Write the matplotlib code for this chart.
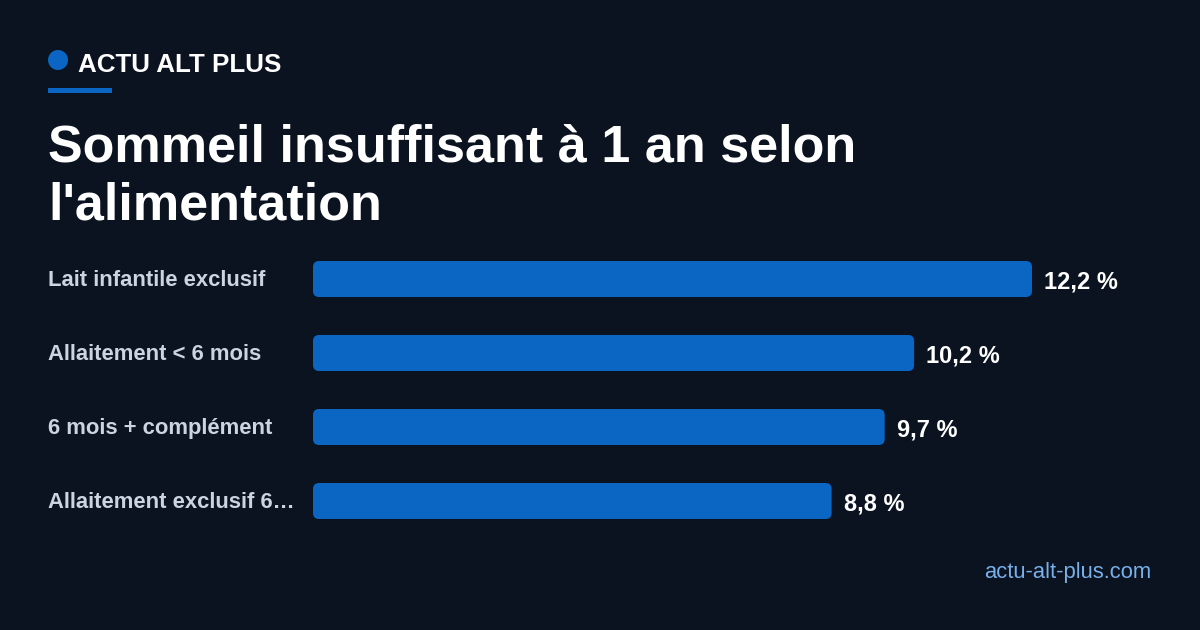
import matplotlib
matplotlib.use("Agg")
import matplotlib.pyplot as plt
from matplotlib.patches import FancyBboxPatch, Ellipse, Rectangle
from matplotlib.transforms import blended_transform_factory, offset_copy

categories = ["Lait infantile exclusif", "Allaitement < 6 mois",
              "6 mois + complément", "Allaitement exclusif 6…"]
values = [12.2, 10.2, 9.7, 8.8]
value_labels = ["12,2 %", "10,2 %", "9,7 %", "8,8 %"]
brand = "ACTU ALT PLUS"
title_lines = ["Sommeil insuffisant à 1 an selon", "l'alimentation"]
footer = "actu-alt-plus.com"

BG = "#0b1220"
BAR = "#0a66c2"
LABEL = "#cbd5e1"
FOOT = "#78b0ea"
FONT = ["Liberation Sans", "DejaVu Sans"]
plt.rcParams["font.family"] = FONT

W, H = 1200, 630
DPI = 100
fig = plt.figure(figsize=(W / DPI, H / DPI), dpi=DPI, facecolor=BG)

def fx(px):
    return px / W

def fy(py):
    return 1 - py / H

def pt(px):
    return px * 72 / DPI

# header
fig.patches.append(Ellipse((fx(58), fy(60)), 20 / W, 20 / H, transform=fig.transFigure,
                           facecolor=BAR, edgecolor="none"))
fig.text(fx(78), fy(72), brand, color="white", fontsize=18.7, fontweight="bold",
         ha="left", va="baseline")
fig.patches.append(Rectangle((fx(48), fy(93)), 64 / W, 5 / H, transform=fig.transFigure,
                             facecolor=BAR, edgecolor="none"))
fig.text(fx(48), fy(161), title_lines[0], color="white", fontsize=37.5, fontweight="bold",
         ha="left", va="baseline")
fig.text(fx(48), fy(219), title_lines[1], color="white", fontsize=37.5, fontweight="bold",
         ha="left", va="baseline")

# chart axes
ax_left, ax_right = 313, 1151
bar_end_px = 1032
ax_top, ax_bottom = 242, 538
ax = fig.add_axes([fx(ax_left), fy(ax_bottom), (ax_right - ax_left) / W,
                   (ax_bottom - ax_top) / H])
ax.set_facecolor(BG)
ax.patch.set_alpha(0)
for s in ax.spines.values():
    s.set_visible(False)
ax.set_xticks([])
ax.set_yticks([])
px_per_x = (bar_end_px - ax_left) / max(values)
ax.set_xlim(0, (ax_right - ax_left) / px_per_x)
ax.set_ylim(len(values) - 0.5, -0.5)
px_per_y = (ax_bottom - ax_top) / len(values)

bar_h = 36 / px_per_y
r_x = 6 / px_per_x
bt = blended_transform_factory(fig.transFigure, ax.transData)
label_tr = offset_copy(bt, fig=fig, x=0, y=-pt(7), units="points")
value_tr = offset_copy(ax.transData, fig=fig, x=pt(12), y=-pt(9), units="points")
for i, v in enumerate(values):
    p = FancyBboxPatch((0, i - bar_h / 2), v, bar_h,
                       boxstyle=f"round,pad=0,rounding_size={r_x}",
                       mutation_aspect=px_per_x / px_per_y,
                       facecolor=BAR, edgecolor="none")
    ax.add_patch(p)
    ax.text(v, i, value_labels[i], transform=value_tr, color="white", fontsize=17,
            fontweight="bold", ha="left", va="baseline")
    ax.text(fx(48), i, categories[i], transform=label_tr, color=LABEL, fontsize=15.8,
            fontweight="bold", ha="left", va="baseline", clip_on=False)

fig.text(fx(1151), fy(578), footer, color=FOOT, fontsize=15.8, ha="right", va="baseline")

fig.savefig("out.png", dpi=DPI, facecolor=BG)
